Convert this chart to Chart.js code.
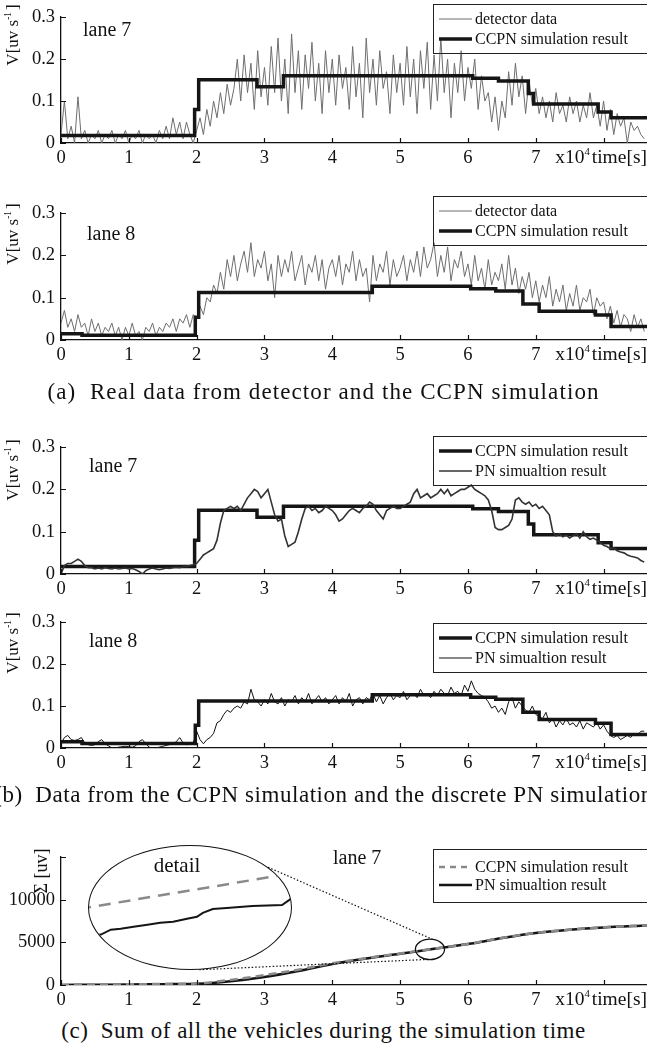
<!DOCTYPE html>
<html>
<head>
<meta charset="utf-8">
<script src="https://cdn.jsdelivr.net/npm/chart.js@4.4.1/dist/chart.umd.min.js"></script>
<style>
  body { margin: 0; background: #fff; }
  #fig { position: relative; width: 647px; height: 1054px; overflow: hidden; font-family: 'Liberation Serif', serif; color: #111; }
  .panel { position: absolute; left: 0; width: 647px; }
  .ytitle { position: absolute; white-space: nowrap; font-size: 17px; transform: translate(-50%, -50%) rotate(-90deg); }
  .lane { position: absolute; font-size: 20px; white-space: nowrap; transform: translateY(-50%); }
  .xunit { position: absolute; right: 0; font-size: 19.5px; white-space: nowrap; transform: translateY(-50%); }
  .sup { font-size: 0.55em; position: relative; top: -0.75em; margin-right: 2px; }
  .caption { position: absolute; left: -200px; width: 1047px; text-align: center; font-size: 23px; letter-spacing: 0.5px; white-space: nowrap; transform: translateY(-50%); }
  #lens { position: absolute; left: 88px; top: 845px; width: 204px; height: 125px; border: 1.3px solid #111; border-radius: 50%; overflow: hidden; box-sizing: border-box; background: #fff; }
  #lens .inner { position: absolute; left: 0; top: 0; right: 0; bottom: 0; }
  #detail { position: absolute; left: 177px; top: 865px; font-size: 21px; transform: translate(-50%, -50%); }
</style>
</head>
<body>
<div id="fig">
  <div class="panel" style="top:0px;height:175px"><canvas id="p1"></canvas></div>
  <div class="panel" style="top:196px;height:176px"><canvas id="p2"></canvas></div>
  <div class="panel" style="top:430px;height:176px"><canvas id="p3"></canvas></div>
  <div class="panel" style="top:605px;height:175px"><canvas id="p4"></canvas></div>
  <div class="panel" style="top:840px;height:177px"><canvas id="p5"></canvas></div>

  <div class="ytitle" style="left:13px;top:35px">V[uv s<span class="sup">-1</span>]</div>
  <div class="ytitle" style="left:13px;top:234px">V[uv s<span class="sup">-1</span>]</div>
  <div class="ytitle" style="left:13px;top:470px">V[uv s<span class="sup">-1</span>]</div>
  <div class="ytitle" style="left:13px;top:643px">V[uv s<span class="sup">-1</span>]</div>
  <div class="ytitle" style="left:41px;top:871px;font-size:18px">Σ&nbsp;[uv]</div>

  <div class="lane" style="left:83px;top:29px">lane 7</div>
  <div class="lane" style="left:87px;top:233px">lane 8</div>
  <div class="lane" style="left:89px;top:465px">lane 7</div>
  <div class="lane" style="left:89px;top:640px">lane 8</div>
  <div class="lane" style="left:333px;top:857px">lane 7</div>

  <div class="xunit" style="top:157px">x10<span class="sup">4</span>time[s]</div>
  <div class="xunit" style="top:354px">x10<span class="sup">4</span>time[s]</div>
  <div class="xunit" style="top:588px">x10<span class="sup">4</span>time[s]</div>
  <div class="xunit" style="top:762px">x10<span class="sup">4</span>time[s]</div>
  <div class="xunit" style="top:999px">x10<span class="sup">4</span>time[s]</div>

  <div class="caption" style="top:392px;letter-spacing:1.1px">(a)&nbsp; Real data from detector and the CCPN simulation</div>
  <div class="caption" style="top:795px;letter-spacing:0.55px">(b)&nbsp; Data from the CCPN simulation and the discrete PN simulation</div>
  <div class="caption" style="top:1031px">(c)&nbsp; Sum of all the vehicles during the simulation time</div>

  <div id="lens"><div class="inner"><canvas id="inset"></canvas></div></div>
  <div id="detail">detail</div>
</div>

<script>
// time axis in units of 10^4 s
const X_MAX = 8.64;
const SAMPLE_STEP = 0.05;

// detector data, one value every SAMPLE_STEP
const detectorLane7 = [
  0.02, 0.10, 0.01, 0.04, 0.00, 0.11, 0.01, 0.03, 0.00, 0.02,
  0.01, 0.03, 0.00, 0.02, 0.01, 0.03, 0.00, 0.02, 0.01, 0.03,
  0.00, 0.02, 0.01, 0.03, 0.00, 0.02, 0.01, 0.02, 0.00, 0.03,
  0.01, 0.04, 0.01, 0.06, 0.02, 0.05, 0.01, 0.05, 0.02, 0.00,
  0.03, 0.06, 0.02, 0.08, 0.04, 0.10, 0.06, 0.12, 0.07, 0.14,
  0.09, 0.13, 0.20, 0.10, 0.21, 0.12, 0.19, 0.08, 0.22, 0.11,
  0.18, 0.09, 0.23, 0.12, 0.25, 0.10, 0.20, 0.07, 0.26, 0.12,
  0.22, 0.08, 0.21, 0.13, 0.24, 0.10, 0.19, 0.07, 0.22, 0.12,
  0.20, 0.09, 0.21, 0.13, 0.18, 0.08, 0.23, 0.11, 0.19, 0.06,
  0.25, 0.12, 0.20, 0.09, 0.22, 0.13, 0.17, 0.07, 0.21, 0.12,
  0.19, 0.09, 0.23, 0.11, 0.20, 0.07, 0.22, 0.13, 0.24, 0.08,
  0.21, 0.10, 0.25, 0.12, 0.20, 0.06, 0.19, 0.12, 0.22, 0.10,
  0.18, 0.13, 0.20, 0.08, 0.16, 0.10, 0.12, 0.05, 0.11, 0.03,
  0.10, 0.06, 0.17, 0.09, 0.19, 0.11, 0.16, 0.07, 0.15, 0.09,
  0.13, 0.07, 0.11, 0.06, 0.10, 0.05, 0.12, 0.07, 0.09, 0.05,
  0.11, 0.07, 0.10, 0.05, 0.09, 0.06, 0.12, 0.06, 0.09, 0.04,
  0.10, 0.03, 0.08, 0.02, 0.07, 0.04, 0.06, 0.00, 0.05, 0.03,
  0.04, 0.02, 0.01
];

const detectorLane8 = [
  0.04, 0.07, 0.03, 0.05, 0.02, 0.06, 0.03, 0.04, 0.01, 0.05,
  0.02, 0.04, 0.01, 0.03, 0.02, 0.04, 0.01, 0.03, 0.00, 0.03,
  0.01, 0.04, 0.01, 0.02, 0.00, 0.03, 0.02, 0.04, 0.01, 0.03,
  0.02, 0.04, 0.03, 0.05, 0.02, 0.05, 0.04, 0.06, 0.03, 0.06,
  0.05, 0.08, 0.06, 0.10, 0.09, 0.13, 0.11, 0.16, 0.12, 0.19,
  0.15, 0.20, 0.14, 0.18, 0.21, 0.16, 0.23, 0.15, 0.19, 0.17,
  0.21, 0.14, 0.18, 0.10, 0.20, 0.15, 0.19, 0.16, 0.21, 0.14,
  0.17, 0.20, 0.13, 0.18, 0.16, 0.20, 0.14, 0.19, 0.12, 0.17,
  0.19, 0.15, 0.20, 0.13, 0.18, 0.16, 0.21, 0.14, 0.19, 0.15,
  0.17, 0.09, 0.20, 0.14, 0.18, 0.16, 0.21, 0.13, 0.19, 0.15,
  0.17, 0.20, 0.14, 0.19, 0.16, 0.21, 0.15, 0.22, 0.17, 0.19,
  0.23, 0.15, 0.20, 0.16, 0.22, 0.14, 0.19, 0.17, 0.21, 0.15,
  0.18, 0.13, 0.20, 0.14, 0.17, 0.12, 0.19, 0.13, 0.16, 0.14,
  0.18, 0.12, 0.20, 0.13, 0.17, 0.11, 0.15, 0.12, 0.16, 0.10,
  0.14, 0.09, 0.13, 0.10, 0.15, 0.08, 0.12, 0.09, 0.13, 0.07,
  0.11, 0.08, 0.13, 0.07, 0.10, 0.09, 0.12, 0.06, 0.10, 0.08,
  0.09, 0.05, 0.08, 0.04, 0.07, 0.03, 0.06, 0.05, 0.02, 0.06,
  0.03, 0.05, 0.02
];

// discrete PN simulation, one value every SAMPLE_STEP
const pnLane7 = [
  0.000, 0.020, 0.025, 0.025, 0.030, 0.035, 0.030, 0.020, 0.015, 0.015,
  0.012, 0.014, 0.012, 0.015, 0.013, 0.012, 0.014, 0.012, 0.013, 0.014,
  0.012, 0.013, 0.010, 0.006, 0.000, 0.008, 0.012, 0.014, 0.012, 0.010,
  0.012, 0.014, 0.013, 0.015, 0.016, 0.015, 0.017, 0.018, 0.020, 0.022,
  0.025, 0.035, 0.045, 0.050, 0.055, 0.060, 0.080, 0.120, 0.150, 0.155,
  0.160, 0.155, 0.160, 0.150, 0.165, 0.180, 0.190, 0.200, 0.195, 0.180,
  0.190, 0.200, 0.170, 0.140, 0.125, 0.130, 0.090, 0.065, 0.070, 0.075,
  0.100, 0.130, 0.155, 0.160, 0.150, 0.155, 0.145, 0.150, 0.160, 0.155,
  0.150, 0.140, 0.125, 0.130, 0.140, 0.150, 0.155, 0.150, 0.145, 0.155,
  0.160, 0.170, 0.165, 0.150, 0.140, 0.130, 0.150, 0.155, 0.160, 0.155,
  0.155, 0.160, 0.165, 0.170, 0.190, 0.200, 0.180, 0.185, 0.190, 0.180,
  0.185, 0.190, 0.200, 0.190, 0.200, 0.185, 0.190, 0.195, 0.200, 0.200,
  0.205, 0.210, 0.200, 0.195, 0.190, 0.185, 0.175, 0.150, 0.110, 0.105,
  0.105, 0.110, 0.115, 0.130, 0.175, 0.180, 0.170, 0.165, 0.170, 0.160,
  0.165, 0.155, 0.160, 0.150, 0.140, 0.100, 0.090, 0.095, 0.088, 0.092,
  0.085, 0.090, 0.095, 0.085, 0.100, 0.088, 0.082, 0.085, 0.080, 0.075,
  0.068, 0.065, 0.060, 0.062, 0.055, 0.052, 0.050, 0.045, 0.042, 0.040,
  0.038, 0.032, 0.028
];

const pnLane8 = [
  0.010, 0.025, 0.030, 0.020, 0.018, 0.020, 0.025, 0.012, 0.008, 0.006,
  0.008, 0.015, 0.020, 0.010, 0.005, 0.000, 0.000, 0.002, 0.003, 0.004,
  0.003, 0.002, 0.005, 0.015, 0.020, 0.010, 0.002, 0.000, 0.000, 0.002,
  0.004, 0.006, 0.008, 0.010, 0.015, 0.025, 0.012, 0.008, 0.010, 0.012,
  0.040, 0.020, 0.010, 0.020, 0.025, 0.035, 0.060, 0.065, 0.080, 0.090,
  0.085, 0.095, 0.100, 0.095, 0.110, 0.105, 0.140, 0.115, 0.110, 0.100,
  0.115, 0.105, 0.130, 0.110, 0.105, 0.120, 0.100, 0.115, 0.110, 0.125,
  0.105, 0.120, 0.110, 0.130, 0.105, 0.115, 0.125, 0.110, 0.120, 0.105,
  0.115, 0.125, 0.105, 0.120, 0.110, 0.130, 0.100, 0.115, 0.120, 0.105,
  0.120, 0.115, 0.130, 0.110, 0.125, 0.105, 0.120, 0.130, 0.115, 0.125,
  0.120, 0.135, 0.115, 0.125, 0.130, 0.120, 0.140, 0.125, 0.130, 0.120,
  0.135, 0.125, 0.140, 0.130, 0.125, 0.145, 0.130, 0.135, 0.125, 0.150,
  0.135, 0.160, 0.140, 0.130, 0.125, 0.120, 0.110, 0.095, 0.100, 0.085,
  0.095, 0.080, 0.110, 0.120, 0.095, 0.110, 0.100, 0.090, 0.085, 0.100,
  0.080, 0.075, 0.070, 0.085, 0.060, 0.070, 0.050, 0.065, 0.055, 0.070,
  0.055, 0.060, 0.050, 0.065, 0.045, 0.060, 0.055, 0.050, 0.060, 0.045,
  0.055, 0.040, 0.030, 0.025, 0.030, 0.020, 0.025, 0.030, 0.025, 0.035,
  0.030, 0.040, 0.040
];

// CCPN simulation: value holds from each time until the next one
const ccpnLane7Times = [0, 1.97, 2.03, 2.89, 3.28, 6.07, 6.45, 6.89, 6.97, 7.92, 8.11, 8.64];
const ccpnLane7 = [0.018, 0.080, 0.151, 0.134, 0.160, 0.154, 0.148, 0.118, 0.093, 0.074, 0.060, 0.060];
const ccpnLane8Times = [0, 0.31, 1.98, 2.03, 4.59, 6.04, 6.41, 6.81, 7.05, 7.88, 8.11, 8.64];
const ccpnLane8 = [0.015, 0.011, 0.054, 0.112, 0.127, 0.121, 0.116, 0.085, 0.068, 0.059, 0.032, 0.032];

// cumulative vehicles, lane 7
const sumTimes = [0, 0.5, 1, 1.5, 2, 2.5, 3, 3.5, 4, 4.5, 5, 5.5, 6, 6.5, 7, 7.5, 8, 8.64];
const sumCcpn = [0, 40, 80, 120, 180, 600, 1150, 1800, 2550, 3150, 3700, 4260, 4820, 5520, 6110, 6490, 6760, 6990];
const sumPn = [0, 30, 60, 100, 150, 450, 950, 1650, 2450, 3100, 3660, 4250, 4800, 5500, 6100, 6480, 6750, 6980];

// zoomed detail around t = 5.44
const detailCcpnTimes = [5.39, 5.61];
const detailCcpn = [4161, 4198];
const detailPnTimes = [5.395, 5.412, 5.422, 5.432, 5.445, 5.459, 5.472, 5.485, 5.499, 5.509, 5.515, 5.525, 5.539, 5.552, 5.565, 5.595, 5.602, 5.61];
const detailPn = [4133, 4135, 4140, 4141, 4143, 4145, 4147, 4148, 4151, 4153, 4157, 4161, 4162, 4163, 4164, 4165, 4170, 4176];
const ZOOM_AT = [5.44, 4180];
const ZOOM_R = [0.215, 1200];

const FONT = "'Liberation Serif', serif";
Chart.defaults.font.family = FONT;
Chart.defaults.color = "#111";

function sampled(vals) {
  return vals.map(function (v, i) { return { x: i * SAMPLE_STEP, y: v }; });
}
function paired(xs, ys) {
  return xs.map(function (x, i) { return { x: x, y: ys[i] }; });
}

// tick marks drawn inside the axes
const inwardTicks = {
  id: "inwardTicks",
  afterDraw(chart) {
    const { ctx, chartArea: a, scales } = chart;
    ctx.save();
    ctx.strokeStyle = "#111";
    ctx.lineWidth = 1.2;
    ctx.beginPath();
    scales.x.ticks.forEach(function (t) {
      const px = Math.round(scales.x.getPixelForValue(t.value)) + 0.5;
      ctx.moveTo(px, a.bottom);
      ctx.lineTo(px, a.bottom - 5);
    });
    scales.y.ticks.forEach(function (t) {
      const py = Math.round(scales.y.getPixelForValue(t.value)) + 0.5;
      ctx.moveTo(a.left, py);
      ctx.lineTo(a.left + 5, py);
    });
    ctx.stroke();
    ctx.restore();
  },
};

function boxLegend(cfg) {
  return {
    id: "boxLegend",
    afterDraw(chart) {
      const ctx = chart.ctx;
      ctx.save();
      ctx.strokeStyle = "#222";
      ctx.lineWidth = 1;
      ctx.strokeRect(cfg.left + 0.5, cfg.top + 0.5, cfg.width, cfg.height);
      cfg.items.forEach(function (idx, k) {
        const ds = chart.data.datasets[idx];
        const y = cfg.top + cfg.rows[k];
        ctx.beginPath();
        ctx.strokeStyle = ds.borderColor;
        ctx.lineWidth = ds.borderWidth;
        ctx.setLineDash(ds.legendDash || []);
        ctx.moveTo(cfg.left + 6, y);
        ctx.lineTo(cfg.left + 39, y);
        ctx.stroke();
        ctx.setLineDash([]);
        ctx.fillStyle = "#111";
        ctx.font = "16px " + FONT;
        ctx.textBaseline = "middle";
        ctx.fillText(ds.label, cfg.left + 42, y + 1);
      });
      ctx.restore();
    },
  };
}

// small ellipse on the curve and dotted lines to the magnifier
const lensMarks = {
  id: "lensMarks",
  afterDatasetsDraw(chart) {
    const { ctx, scales } = chart;
    const x = scales.x, y = scales.y;
    const cx = x.getPixelForValue(ZOOM_AT[0]);
    const cy = y.getPixelForValue(ZOOM_AT[1]);
    const rx = Math.abs(x.getPixelForValue(ZOOM_AT[0] + ZOOM_R[0]) - cx);
    const ry = Math.abs(y.getPixelForValue(ZOOM_AT[1] + ZOOM_R[1]) - cy);
    const L = { cx: 190, cy: 67.5, rx: 102, ry: 62.5 };
    ctx.save();
    ctx.strokeStyle = "#111";
    ctx.lineWidth = 1.3;
    ctx.beginPath();
    ctx.ellipse(cx, cy, rx, ry, 0, 0, 2 * Math.PI);
    ctx.stroke();
    ctx.setLineDash([1.5, 2]);
    ctx.lineWidth = 1.2;
    [[-0.70, -1.40], [1.48, 1.75]].forEach(function (p) {
      ctx.beginPath();
      ctx.moveTo(L.cx + L.rx * Math.cos(p[0]), L.cy + L.ry * Math.sin(p[0]));
      ctx.lineTo(cx + rx * Math.cos(p[1]), cy + ry * Math.sin(p[1]));
      ctx.stroke();
    });
    ctx.restore();
  },
};

function xAxis() {
  return {
    type: "linear",
    min: 0,
    max: X_MAX,
    grid: { display: false, drawTicks: false },
    border: { display: true, color: "#111", width: 1.3 },
    ticks: {
      stepSize: 1,
      includeBounds: false,
      autoSkip: false,
      maxRotation: 0,
      padding: 4,
      font: { size: 18.5 },
      callback: function (v) { return (v <= 7 && Number.isInteger(v)) ? String(v) : ""; },
    },
    afterFit: function (s) { s.height = 32; },
  };
}

function yAxis(max, step, fmt) {
  return {
    type: "linear",
    min: 0,
    max: max,
    grid: { display: false, drawTicks: false },
    border: { display: true, color: "#111", width: 1.3 },
    ticks: { stepSize: step, padding: 6, font: { size: 18.5 }, callback: fmt },
    afterFit: function (s) { s.width = 61; },
  };
}

const speedFmt = function (v) { return v === 0 ? "0" : v.toFixed(1); };
const sumFmt = function (v) { return v >= 15000 ? "" : String(v); };

function makeChart(id, datasets, yScale, plugins) {
  return new Chart(document.getElementById(id), {
    type: "line",
    data: { datasets: datasets },
    options: {
      responsive: true,
      maintainAspectRatio: false,
      animation: false,
      devicePixelRatio: 1,
      parsing: false,
      layout: { padding: { top: 14, left: 0, right: 0, bottom: 0 } },
      plugins: { legend: { display: false }, tooltip: { enabled: false } },
      elements: { point: { radius: 0 }, line: { tension: 0 } },
      scales: { x: xAxis(), y: yScale },
    },
    plugins: [inwardTicks].concat(plugins),
  });
}

function ccpnSet(times, vals) {
  return {
    label: "CCPN simulation result",
    data: paired(times, vals),
    stepped: "before",
    borderColor: "#151515",
    borderWidth: 3.5,
  };
}

function detectorSet(vals) {
  return {
    label: "detector data",
    data: sampled(vals),
    borderColor: "#6e6e6e",
    borderWidth: 1,
  };
}

function pnSet(vals, color, width) {
  return {
    label: "PN simualtion result",
    data: sampled(vals),
    borderColor: color,
    borderWidth: width,
  };
}

makeChart("p1", [ccpnSet(ccpnLane7Times, ccpnLane7), detectorSet(detectorLane7)],
  yAxis(0.3, 0.1, speedFmt),
  [boxLegend({ left: 433, top: 4, width: 214, height: 49, rows: [15, 35], items: [1, 0] })]);

makeChart("p2", [ccpnSet(ccpnLane8Times, ccpnLane8), detectorSet(detectorLane8)],
  yAxis(0.3, 0.1, speedFmt),
  [boxLegend({ left: 433, top: 0, width: 214, height: 49, rows: [15, 35], items: [1, 0] })]);

makeChart("p3", [pnSet(pnLane7, "#333", 1.6), ccpnSet(ccpnLane7Times, ccpnLane7)],
  yAxis(0.3, 0.1, speedFmt),
  [boxLegend({ left: 433, top: 6, width: 214, height: 49, rows: [15, 35], items: [1, 0] })]);

makeChart("p4", [pnSet(pnLane8, "#111", 1), ccpnSet(ccpnLane8Times, ccpnLane8)],
  yAxis(0.3, 0.1, speedFmt),
  [boxLegend({ left: 433, top: 18, width: 214, height: 49, rows: [15, 35], items: [1, 0] })]);

makeChart("p5", [
  {
    label: "CCPN simulation result",
    data: paired(sumTimes, sumCcpn),
    borderColor: "#8a8a8a",
    borderWidth: 2.5,
    borderDash: [8, 5],
    legendDash: [6, 5],
    cubicInterpolationMode: "monotone",
  },
  {
    label: "PN simualtion result",
    data: paired(sumTimes, sumPn),
    borderColor: "#151515",
    borderWidth: 2.5,
    cubicInterpolationMode: "monotone",
  },
], yAxis(15000, 5000, sumFmt),
  [lensMarks, boxLegend({ left: 433, top: 9, width: 214, height: 53, rows: [18, 36], items: [0, 1] })]);

// magnified detail inside the big ellipse
new Chart(document.getElementById("inset"), {
  type: "line",
  data: {
    datasets: [
      { data: paired(detailCcpnTimes, detailCcpn), borderColor: "#8a8a8a", borderWidth: 2.5, borderDash: [12, 8] },
      { data: paired(detailPnTimes, detailPn), borderColor: "#151515", borderWidth: 2 },
    ],
  },
  options: {
    responsive: true,
    maintainAspectRatio: false,
    animation: false,
    devicePixelRatio: 1,
    parsing: false,
    layout: { padding: 0 },
    plugins: { legend: { display: false }, tooltip: { enabled: false } },
    elements: { point: { radius: 0 }, line: { tension: 0 } },
    scales: {
      x: { type: "linear", display: false, min: 5.4, max: 5.604 },
      y: { type: "linear", display: false, min: 4100, max: 4225 },
    },
  },
});
</script>
</body>
</html>
